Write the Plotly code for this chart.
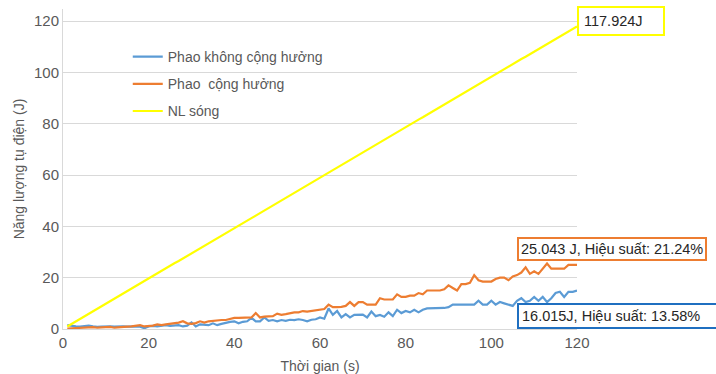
import plotly.graph_objects as go

time_s = list(range(1, 121))

blue = [1.5, 1.2, 1.0, 0.9, 1.0, 1.3, 1.0, 0.8, 0.9, 1.0,
        1.0, 0.9, 1.0, 1.0, 0.9, 1.0, 1.0, 0.9, 0.3, 1.0,
        1.2, 1.0, 1.3, 1.5, 1.2, 1.4, 1.5, 1.0, 1.3, 2.6,
        1.0, 1.8, 1.6, 1.5, 2.2, 1.5, 2.0, 2.5, 2.8, 3.0,
        2.2, 2.8, 3.0, 4.3, 3.0, 3.0, 4.5, 3.2, 3.5, 3.0,
        3.5, 3.2, 3.6, 3.5, 3.8, 3.5, 3.0, 3.6, 3.8, 4.5,
        4.0, 8.0, 5.5, 7.0, 4.5, 5.8, 4.5, 5.5, 5.5, 5.6,
        4.5, 6.8, 5.0, 5.5, 4.8, 6.5, 5.0, 7.5, 6.2, 7.0,
        6.5, 7.5, 6.5, 7.5, 8.0, 8.0, 8.0, 8.0, 8.2, 8.5,
        9.5, 9.5, 9.5, 9.5, 9.5, 9.5, 11.0, 9.5, 9.5, 11.0,
        9.5, 10.5, 10.0, 9.5, 9.0, 11.0, 12.0, 10.5, 11.0, 12.5,
        11.0, 12.5, 10.5, 12.0, 14.0, 14.5, 12.5, 14.5, 14.5, 15.0]

orange = [0.2, 0.3, 0.5, 0.5, 0.6, 0.8, 0.7, 0.5, 0.6, 0.7,
          0.8, 0.5, 0.7, 0.8, 0.9, 1.0, 1.2, 1.5, 1.0, 1.2,
          1.3, 1.8, 1.5, 1.8, 2.0, 2.2, 2.5, 3.0, 2.2, 2.0,
          2.3, 3.0, 2.5, 3.0, 3.2, 3.3, 3.5, 3.5, 3.8, 4.3,
          4.3, 4.3, 4.5, 4.5, 6.2, 4.5, 4.8, 5.0, 5.0, 6.0,
          5.5, 5.8, 6.3, 6.5, 6.5, 7.0, 6.8, 7.0, 7.2, 7.5,
          7.8, 9.5, 8.5, 8.5, 8.6, 9.0, 10.5, 9.0, 10.5, 10.5,
          9.5, 9.5, 9.5, 12.0, 11.5, 11.5, 11.5, 13.5, 12.5, 12.5,
          13.0, 13.0, 14.0, 13.5, 15.0, 15.0, 15.0, 15.0, 15.5, 17.0,
          16.0, 15.0, 17.5, 17.5, 18.0, 21.0, 19.0, 18.5, 18.5, 18.5,
          19.5, 20.0, 20.0, 19.0, 20.5, 21.0, 22.0, 24.0, 21.5, 22.5,
          21.5, 23.5, 25.5, 23.5, 23.5, 23.5, 23.5, 25.0, 25.0, 25.0]

yellow = [1.0, 2.0, 2.9, 3.9, 4.9, 5.9, 6.9, 7.9, 8.8, 9.8,
          10.8, 11.8, 12.8, 13.8, 14.7, 15.7, 16.7, 17.7, 18.7, 19.7,
          20.6, 21.6, 22.6, 23.6, 24.6, 25.6, 26.5, 27.5, 28.5, 29.5,
          30.5, 31.4, 32.4, 33.4, 34.4, 35.4, 36.4, 37.3, 38.3, 39.3,
          40.3, 41.3, 42.3, 43.2, 44.2, 45.2, 46.2, 47.2, 48.2, 49.1,
          50.1, 51.1, 52.1, 53.1, 54.0, 55.0, 56.0, 57.0, 58.0, 59.0,
          59.9, 60.9, 61.9, 62.9, 63.9, 64.9, 65.8, 66.8, 67.8, 68.8,
          69.8, 70.8, 71.7, 72.7, 73.7, 74.7, 75.7, 76.7, 77.6, 78.6,
          79.6, 80.6, 81.6, 82.5, 83.5, 84.5, 85.5, 86.5, 87.5, 88.4,
          89.4, 90.4, 91.4, 92.4, 93.4, 94.3, 95.3, 96.3, 97.3, 98.3,
          99.3, 100.2, 101.2, 102.2, 103.2, 104.2, 105.2, 106.1, 107.1, 108.1,
          109.1, 110.1, 111.0, 112.0, 113.0, 114.0, 115.0, 116.0, 116.9, 117.924]

series_names = ["Phao không cộng hưởng", "Phao  cộng hưởng", "NL sóng"]
series_colors = ["#5B9BD5", "#ED7D31", "#FFFF00"]
labels = ["117.924J", "25.043 J, Hiệu suất: 21.24%", "16.015J, Hiệu suất: 13.58%"]

FONT = "Liberation Sans, Arial, sans-serif"
GRAY = "#595959"

fig = go.Figure()
for name, vals, col in zip(series_names, [blue, orange, yellow], series_colors):
    fig.add_trace(go.Scatter(x=time_s, y=vals, mode="lines", name=name,
                             legendgroup=name,
                             line=dict(color=col, width=2.2)))

fig.add_annotation(x=120, y=117.924, xref="x", yref="y", text=labels[0],
                   showarrow=False, xanchor="left", yanchor="middle", yshift=5,
                   align="left", width=74, borderpad=5,
                   bordercolor="#FFFF00", borderwidth=2, bgcolor="white",
                   font=dict(family=FONT, size=14.5, color="#262626"))
fig.add_annotation(x=106.0, y=31.0, xref="x", yref="y", text=labels[1],
                   showarrow=False, xanchor="left", yanchor="middle",
                   borderpad=2, bordercolor="#ED7D31", borderwidth=2, bgcolor="white",
                   font=dict(family=FONT, size=14.5, color="#262626"))
fig.add_annotation(x=106.0, y=4.9, xref="x", yref="y", text=labels[2],
                   showarrow=False, xanchor="left", yanchor="middle",
                   align="left", width=200,
                   borderpad=3, bordercolor="#1F6FC0", borderwidth=2, bgcolor="white",
                   font=dict(family=FONT, size=14.5, color="#262626"))

fig.update_layout(
    width=716, height=374,
    margin=dict(l=63, r=139, t=9, b=45),
    paper_bgcolor="white", plot_bgcolor="white",
    font=dict(family=FONT, color=GRAY),
    showlegend=True,
    legend=dict(x=0.126, y=0.9, xanchor="left", yanchor="top",
                bgcolor="rgba(0,0,0,0)", tracegroupgap=6,
                font=dict(family=FONT, size=14, color=GRAY),
                itemwidth=30),
    xaxis=dict(range=[0, 120], tickvals=[0, 20, 40, 60, 80, 100, 120],
               showgrid=False, zeroline=False, automargin=False,
               showline=True, linecolor="#D9D9D9", linewidth=1,
               ticks="", tickfont=dict(family=FONT, size=15, color=GRAY),
               title=dict(text="Thời gian (s)", standoff=12,
                          font=dict(family=FONT, size=14, color=GRAY))),
    yaxis=dict(range=[0, 124.7], tickvals=[0, 20, 40, 60, 80, 100, 120],
               showgrid=True, gridcolor="#D9D9D9", gridwidth=1, zeroline=False,
               showline=True, linecolor="#D9D9D9", linewidth=1, automargin=False,
               ticks="", tickfont=dict(family=FONT, size=15, color=GRAY),
               title=dict(text="Năng lượng tụ điện (J)", standoff=6,
                          font=dict(family=FONT, size=14, color=GRAY))),
)

fig.write_html("out.html", config={"displayModeBar": False},
               post_script="document.body.style.margin='0';document.body.style.overflow='hidden';")
